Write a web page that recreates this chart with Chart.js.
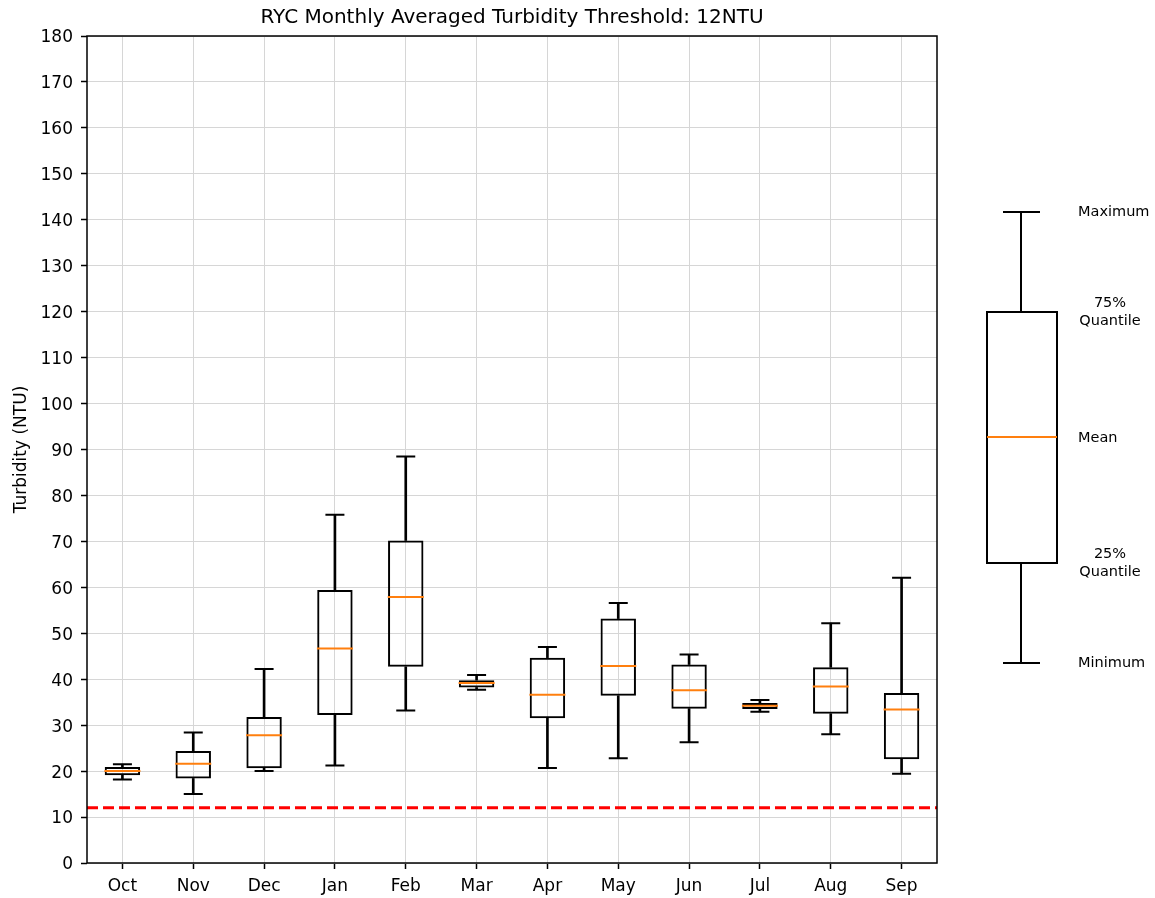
<!DOCTYPE html>
<html>
<head>
<meta charset="utf-8">
<script src="https://cdn.jsdelivr.net/npm/chart.js@4.4.1/dist/chart.umd.min.js"></script>
<style>
    body { margin: 0; background: #fff; font-family: "DejaVu Sans", sans-serif; }
    #wrap { position: relative; width: 1155px; height: 898px; }
    #wrap canvas { position: absolute; left: 0; top: 0; }
    .key { position: absolute; background: #000; }
    .keyTxt { position: absolute; font-size: 14.5px; color: #000; line-height: 18px; }
</style>
</head>
<body>
<div id="wrap">
    <canvas id="boxChart" width="1155" height="898"></canvas>

    <!-- explication du boxplot, a droite -->
    <div class="key" style="left:1020px; top:212px; width:2px; height:100px;"></div>
    <div class="key" style="left:1003px; top:211px; width:37px; height:2px;"></div>
    <div style="position:absolute; left:986px; top:311px; width:72px; height:253px; border:2px solid #000; box-sizing:border-box;"></div>
    <div class="key" style="left:987px; top:436px; width:70px; height:2px; background:#ff7f0e;"></div>
    <div class="key" style="left:1020px; top:563px; width:2px; height:100px;"></div>
    <div class="key" style="left:1003px; top:662px; width:37px; height:2px;"></div>

    <div class="keyTxt" style="left:1078px; top:202px;">Maximum</div>
    <div class="keyTxt" style="left:1078px; top:293px; width:64px; text-align:center;">75%<br>Quantile</div>
    <div class="keyTxt" style="left:1078px; top:428px;">Mean</div>
    <div class="keyTxt" style="left:1078px; top:544px; width:64px; text-align:center;">25%<br>Quantile</div>
    <div class="keyTxt" style="left:1078px; top:653px;">Minimum</div>
</div>

<script>
// valeurs (NTU)
const months = ['Oct', 'Nov', 'Dec', 'Jan', 'Feb', 'Mar', 'Apr', 'May', 'Jun', 'Jul', 'Aug', 'Sep'];
const minVals = [18.2, 15.0, 20.0, 21.2, 33.2, 37.7, 20.7, 22.8, 26.3, 32.9, 28.0, 19.4];
const q1Vals  = [19.1, 18.4, 20.6, 32.2, 42.7, 38.2, 31.5, 36.4, 33.6, 33.5, 32.5, 22.6];
const meanVals = [20.0, 21.6, 27.8, 46.7, 57.9, 39.2, 36.6, 42.9, 37.6, 34.2, 38.4, 33.4];
const q3Vals  = [20.9, 24.4, 31.8, 59.4, 70.2, 39.8, 44.7, 53.2, 43.2, 34.8, 42.6, 37.0];
const maxVals = [21.5, 28.4, 42.2, 75.8, 88.5, 40.9, 47.0, 56.6, 45.4, 35.5, 52.2, 62.1];
const threshold = 12;
const yTicks = { min: 0, max: 180, step: 10 };

const FONT = "'DejaVu Sans', sans-serif";

// ligne du seuil + cadre complet autour du graphe
const framePlugin = {
    id: 'frame',
    beforeDatasetsDraw(chart) {
        const { ctx, chartArea: a, scales } = chart;
        const y = scales.y.getPixelForValue(threshold);
        ctx.save();
        ctx.strokeStyle = '#ff0000';
        ctx.lineWidth = 3;
        ctx.setLineDash([11, 5]);
        ctx.beginPath();
        ctx.moveTo(a.left, y);
        ctx.lineTo(a.right, y);
        ctx.stroke();
        ctx.restore();
    },
    afterDraw(chart) {
        const { ctx, chartArea: a } = chart;
        ctx.save();
        ctx.strokeStyle = '#000';
        ctx.lineWidth = 1.5;
        ctx.strokeRect(a.left, a.top, a.right - a.left, a.bottom - a.top);
        ctx.restore();
    }
};

const ctx = document.getElementById('boxChart').getContext('2d');
new Chart(ctx, {
    type: 'bar',
    data: {
        labels: months,
        datasets: [
            {
                type: 'line', label: 'mean', data: meanVals, order: 0,
                showLine: false, pointStyle: 'line', pointRadius: 18, pointHoverRadius: 18,
                pointBorderColor: '#ff7f0e', pointBorderWidth: 2
            },
            {
                type: 'line', label: 'max', data: maxVals, order: 1,
                showLine: false, pointStyle: 'line', pointRadius: 9.5, pointHoverRadius: 9.5,
                pointBorderColor: '#000', pointBorderWidth: 2
            },
            {
                type: 'line', label: 'min', data: minVals, order: 1,
                showLine: false, pointStyle: 'line', pointRadius: 9.5, pointHoverRadius: 9.5,
                pointBorderColor: '#000', pointBorderWidth: 2
            },
            {
                label: 'box', data: months.map((m, i) => [q1Vals[i], q3Vals[i]]), order: 2,
                backgroundColor: 'rgba(0,0,0,0)', borderColor: '#000', borderWidth: 2,
                borderSkipped: false, grouped: false, barPercentage: 0.5, categoryPercentage: 1
            },
            {
                label: 'upper', data: months.map((m, i) => [q3Vals[i], maxVals[i]]), order: 3,
                backgroundColor: '#000', borderWidth: 0, barThickness: 2, grouped: false
            },
            {
                label: 'lower', data: months.map((m, i) => [minVals[i], q1Vals[i]]), order: 3,
                backgroundColor: '#000', borderWidth: 0, barThickness: 2, grouped: false
            }
        ]
    },
    options: {
        responsive: false,
        animation: false,
        layout: { padding: { left: 0, right: 218, top: 0, bottom: 0 } },
        plugins: {
            legend: { display: false },
            tooltip: { enabled: false },
            title: {
                display: true, fullSize: false,
                text: 'RYC Monthly Averaged Turbidity Threshold: 12NTU',
                color: '#000',
                font: { family: FONT, size: 20, weight: 'normal' },
                padding: { top: 6, bottom: 6 }
            }
        },
        scales: {
            x: {
                afterFit: (s) => { s.height = 35; },
                grid: { offset: false, color: '#d6d6d6', tickColor: '#000', tickLength: 6, tickWidth: 1.5 },
                border: { display: false },
                ticks: { color: '#000', padding: 7, font: { family: FONT, size: 17 } }
            },
            y: {
                min: yTicks.min, max: yTicks.max,
                afterFit: (s) => { s.width = 87; },
                grid: { color: '#d6d6d6', tickColor: '#000', tickLength: 6, tickWidth: 1.5 },
                border: { display: false },
                ticks: { stepSize: yTicks.step, color: '#000', padding: 8, labelOffset: 2, font: { family: FONT, size: 17 } },
                title: {
                    display: true, text: 'Turbidity (NTU)', color: '#000',
                    font: { family: FONT, size: 17 }, padding: { top: 11, bottom: 0 }
                }
            }
        }
    },
    plugins: [framePlugin]
});
</script>
</body>
</html>
